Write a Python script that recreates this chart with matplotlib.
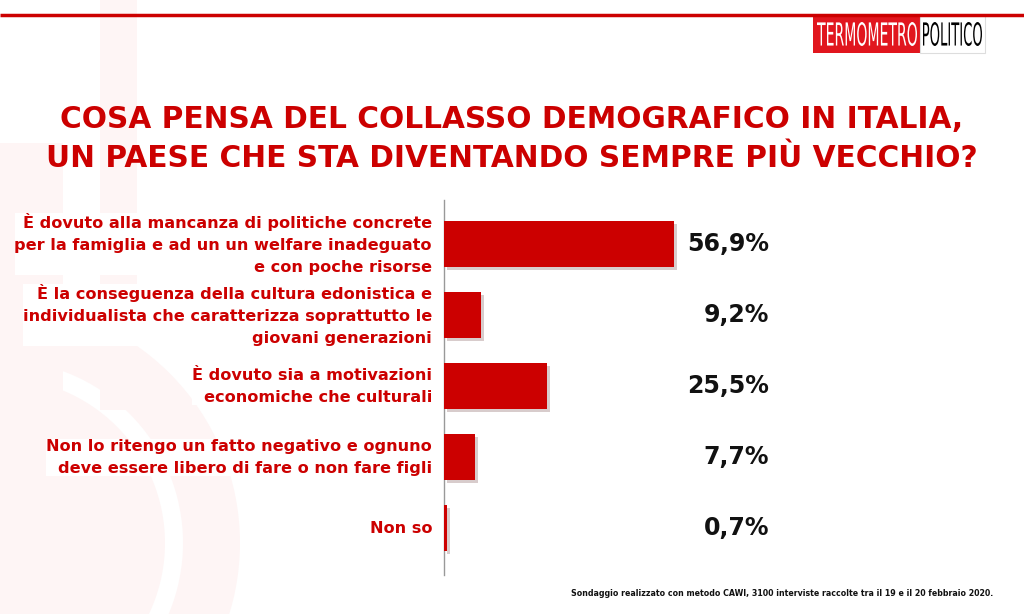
import matplotlib.pyplot as plt
import matplotlib.patheffects as pe
from matplotlib.patches import Rectangle, Circle, Wedge, PathPatch
from matplotlib.textpath import TextPath
from matplotlib.font_manager import FontProperties
from matplotlib.transforms import blended_transform_factory, Affine2D

# --- data -------------------------------------------------------------
categories = [
    "È dovuto alla mancanza di politiche concrete\nper la famiglia e ad un un welfare inadeguato\ne con poche risorse",
    "È la conseguenza della cultura edonistica e\nindividualista che caratterizza soprattutto le\ngiovani generazioni",
    "È dovuto sia a motivazioni\neconomiche che culturali",
    "Non lo ritengo un fatto negativo e ognuno\ndeve essere libero di fare o non fare figli",
    "Non so",
]
values = [56.9, 9.2, 25.5, 7.7, 0.7]
value_labels = ["56,9%", "9,2%", "25,5%", "7,7%", "0,7%"]
title = "COSA PENSA DEL COLLASSO DEMOGRAFICO IN ITALIA,\nUN PAESE CHE STA DIVENTANDO SEMPRE PIÙ VECCHIO?"
footnote = "Sondaggio realizzato con metodo CAWI, 3100 interviste raccolte tra il 19 e il 20 febbraio 2020."

RED = "#cc0000"
FONT = ["DejaVu Sans"]
W, H = 1024, 614

fig = plt.figure(figsize=(W / 100, H / 100), dpi=100)
fig.patch.set_facecolor("white")

# background axes in pixel units (origin top-left) for the decorations
bg = fig.add_axes([0, 0, 1, 1], zorder=-1)
bg.set_xlim(0, W)
bg.set_ylim(H, 0)
bg.axis("off")


def px(x, y):
    return x / W, 1 - y / H


# faint watermark (thermometer shape)
wm = "#fef5f5"
bg.add_patch(Wedge((0, 543), 240, -90, 90, width=57, color=wm, lw=0))
bg.add_patch(Circle((0, 543), 165, color=wm, lw=0))
bg.add_patch(Rectangle((100, 0), 37, 410, color=wm, lw=0))
bg.add_patch(Rectangle((0, 143), 63, 420, color=wm, lw=0))

# top rule + logo
bg.plot([0, W], [15, 15], color=RED, lw=2.5, solid_capstyle="butt")
bg.add_patch(Rectangle((813, 15), 107, 38, color="#e1161e", lw=0))
bg.add_patch(Rectangle((920, 15), 65, 38, facecolor="white", edgecolor="#dddddd", lw=0.8))
logo_fp = FontProperties(family="DejaVu Sans")
for word, x0, x1, col in [("TERMOMETRO", 817, 917, "white"), ("POLITICO", 923, 982, "black")]:
    tp = TextPath((0, 0), word, size=10, prop=logo_fp)
    bb = tp.get_extents()
    t = Affine2D().translate(-bb.x0, -bb.y0).scale((x1 - x0) / bb.width, -24 / bb.height)
    t = t.translate(x0, 46)
    bg.add_patch(PathPatch(tp, transform=t + bg.transData, color=col, lw=0))

# title
fig.text(*px(512, 139), title, color=RED, fontsize=21.3, fontweight="bold",
         family=FONT, ha="center", va="center", linespacing=1.45)

# bars
ax = fig.add_axes([444 / W, 1 - 575 / H, 404 / W, 375 / H])
ax.set_facecolor("none")
ypos = list(range(len(values)))
ax.barh(ypos, values, height=0.65, color=RED, zorder=3,
        path_effects=[pe.SimplePatchShadow(offset=(2, -2), alpha=0.2), pe.Normal()])
ax.set_xlim(0, 100)
ax.set_ylim(4.66, -0.62)
for s in ["top", "right", "bottom"]:
    ax.spines[s].set_visible(False)
ax.spines["left"].set_color("#999999")
ax.spines["left"].set_linewidth(1)
ax.set_xticks([])
ax.set_yticks([])

tr = blended_transform_factory(fig.transFigure, ax.transData)
for y, cat, lab in zip(ypos, categories, value_labels):
    ax.text(432 / W, y, cat, transform=tr, ha="right", va="center", color=RED,
            fontsize=11.6, fontweight="bold", family=FONT, linespacing=1.58,
            bbox=dict(facecolor="white", edgecolor="none", pad=0))
    ax.text(769 / W, y, lab, transform=tr, ha="right", va="center", color="#111111",
            fontsize=17, fontweight="bold", family=FONT)

fig.text(*px(993, 593), footnote, ha="right", va="center", color="#111111",
         fontsize=5.7, fontweight="bold", family=FONT)

fig.savefig("out.png", dpi=100)
